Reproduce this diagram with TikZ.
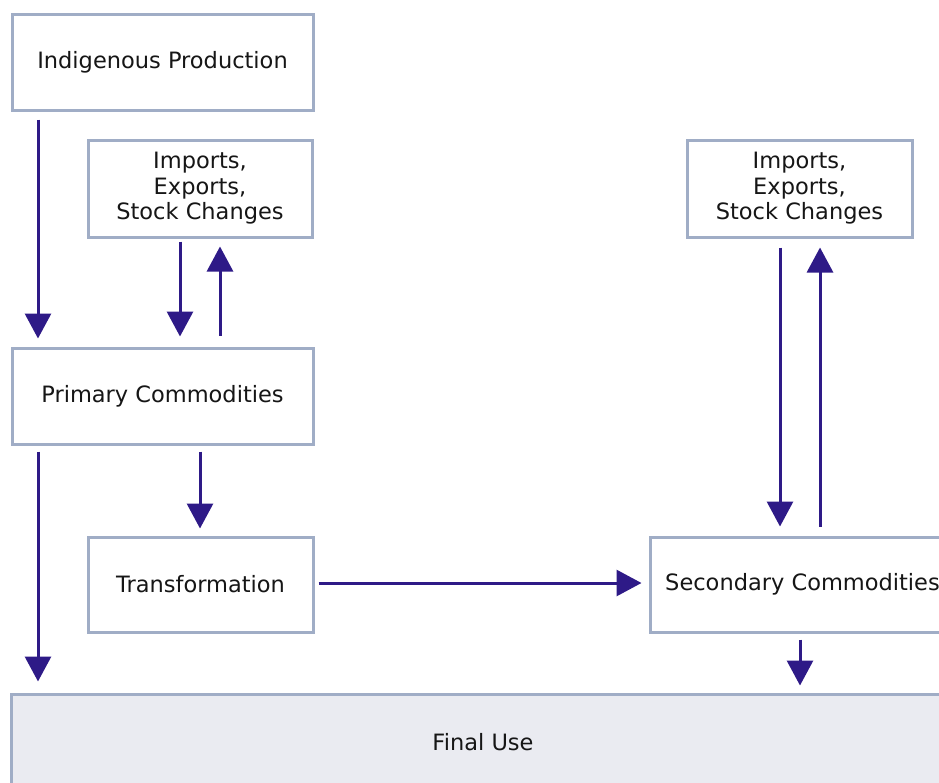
\documentclass[tikz,border=0pt]{standalone}
\usepackage{fontspec}
\setmainfont{DejaVu Sans}
\usetikzlibrary{arrows.meta}
\definecolor{boxline}{HTML}{A0ADC6}
\definecolor{flowcol}{HTML}{2E1A87}
\definecolor{usefill}{HTML}{EAEBF1}
\definecolor{txt}{HTML}{161616}
\begin{document}
\begin{tikzpicture}[x=1pt,y=-1pt,
  box/.style={draw=boxline, line width=3pt, fill=white, inner sep=0pt,
    text=txt, font=\fontsize{22.5}{25.5}\selectfont, align=center},
  flow/.style={draw=flowcol, line width=3pt,
    -{Triangle[width=26pt,length=25pt]}, shorten >=0pt}]
\useasboundingbox (0,0) rectangle (939,782);
\begin{scope}
\clip (0,0) rectangle (939,782);
% boxes
\node[box, minimum width=301pt, minimum height=96pt] (ind) at (162.5,62) {Indigenous Production};
\node[box, minimum width=224pt, minimum height=97pt] (impL) at (200,188.5) {Imports,\\Exports,\\Stock Changes};
\node[box, minimum width=225pt, minimum height=97pt] (impR) at (799.5,188.5) {Imports,\\Exports,\\Stock Changes};
\node[box, minimum width=301pt, minimum height=96pt] (prim) at (162.5,396) {Primary Commodities};
\node[box, minimum width=225pt, minimum height=95pt] (trans) at (200.5,584.5) {Transformation};
\node[box, minimum width=305pt, minimum height=95pt] (sec) at (802.5,584.5) {Secondary Commodities};
\node[box, fill=usefill, minimum width=944pt, minimum height=96pt] (final) at (483,742) {Final Use};
% flows
\draw[flow] ([yshift=-8pt]ind.south -| 38,0) -- ([yshift=8pt]prim.north -| 38,0);
\draw[flow] ([yshift=-3pt]impL.south -| 180,0) -- ([yshift=10pt]prim.north -| 180,0);
\draw[flow] ([yshift=11pt]prim.north -| 220,0) -- ([yshift=-8pt]impL.south -| 220,0);
\draw[flow] ([yshift=-9pt]impR.south -| 780,0) -- ([yshift=9pt]sec.north -| 780,0);
\draw[flow] ([yshift=9pt]sec.north -| 820,0) -- ([yshift=-9pt]impR.south -| 820,0);
\draw[flow] ([yshift=-6pt]prim.south -| 38,0) -- ([yshift=11pt]final.north -| 38,0);
\draw[flow] ([yshift=-6pt]prim.south -| 200,0) -- ([yshift=7pt]trans.north -| 200,0);
\draw[flow] ([xshift=4pt]trans.east |- 0,583) -- ([xshift=-7pt]sec.west |- 0,583);
\draw[flow] ([yshift=-6pt]sec.south -| 800,0) -- ([yshift=7pt]final.north -| 800,0);
\end{scope}
\end{tikzpicture}
\end{document}
